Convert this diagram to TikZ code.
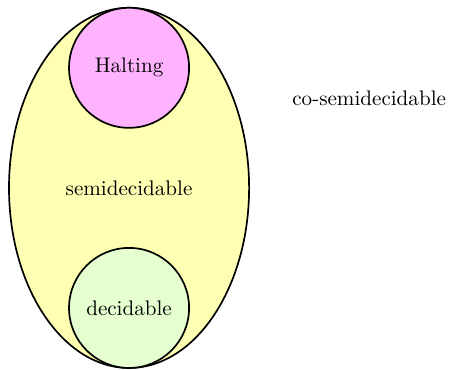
\documentclass[tikz,border=0pt]{standalone}
\usetikzlibrary{shapes.geometric}
\definecolor{semicol}{RGB}{255,255,179}
\definecolor{haltcol}{RGB}{255,179,255}
\definecolor{deccol}{RGB}{229,255,208}
\begin{document}
\begin{tikzpicture}[draw=black!100]
	\def \toprow{2cm}
	\def \midrow{0cm}
	\def \botrow{-2cm}
	\tikzstyle{s-node}=[ellipse,draw=black!100,fill=semicol,thick,inner sep=0pt,minimum width=4cm,minimum height=6cm]
	\tikzstyle{h-node}=[circle,draw=black!100,fill=haltcol,thick,inner sep=0pt,minimum size=2cm]
	\tikzstyle{d-node}=[circle,draw=black!100,fill=deccol,thick,inner sep=0pt,minimum size=2cm]
	\tikzstyle{annot}=[text centered]
	\useasboundingbox (-2.15cm,-3.03cm) rectangle (5.33cm,3.13cm);

	% outer set
	\node[s-node] 	(semi)	at (0cm,\midrow)	{};
	\node[annot] 	(semi-label)	at (0cm,\midrow)	{semidecidable};

	% inner sets
	\node[h-node] 	(halt)	at (0cm,\toprow)	{Halting};
	\node[d-node] 	(dec)	at (0cm,\botrow)	{decidable};

	% complement
	\node[annot] 	(cosemi)	at (4cm,1.5cm)	{co-semidecidable};
\end{tikzpicture}
\end{document}
